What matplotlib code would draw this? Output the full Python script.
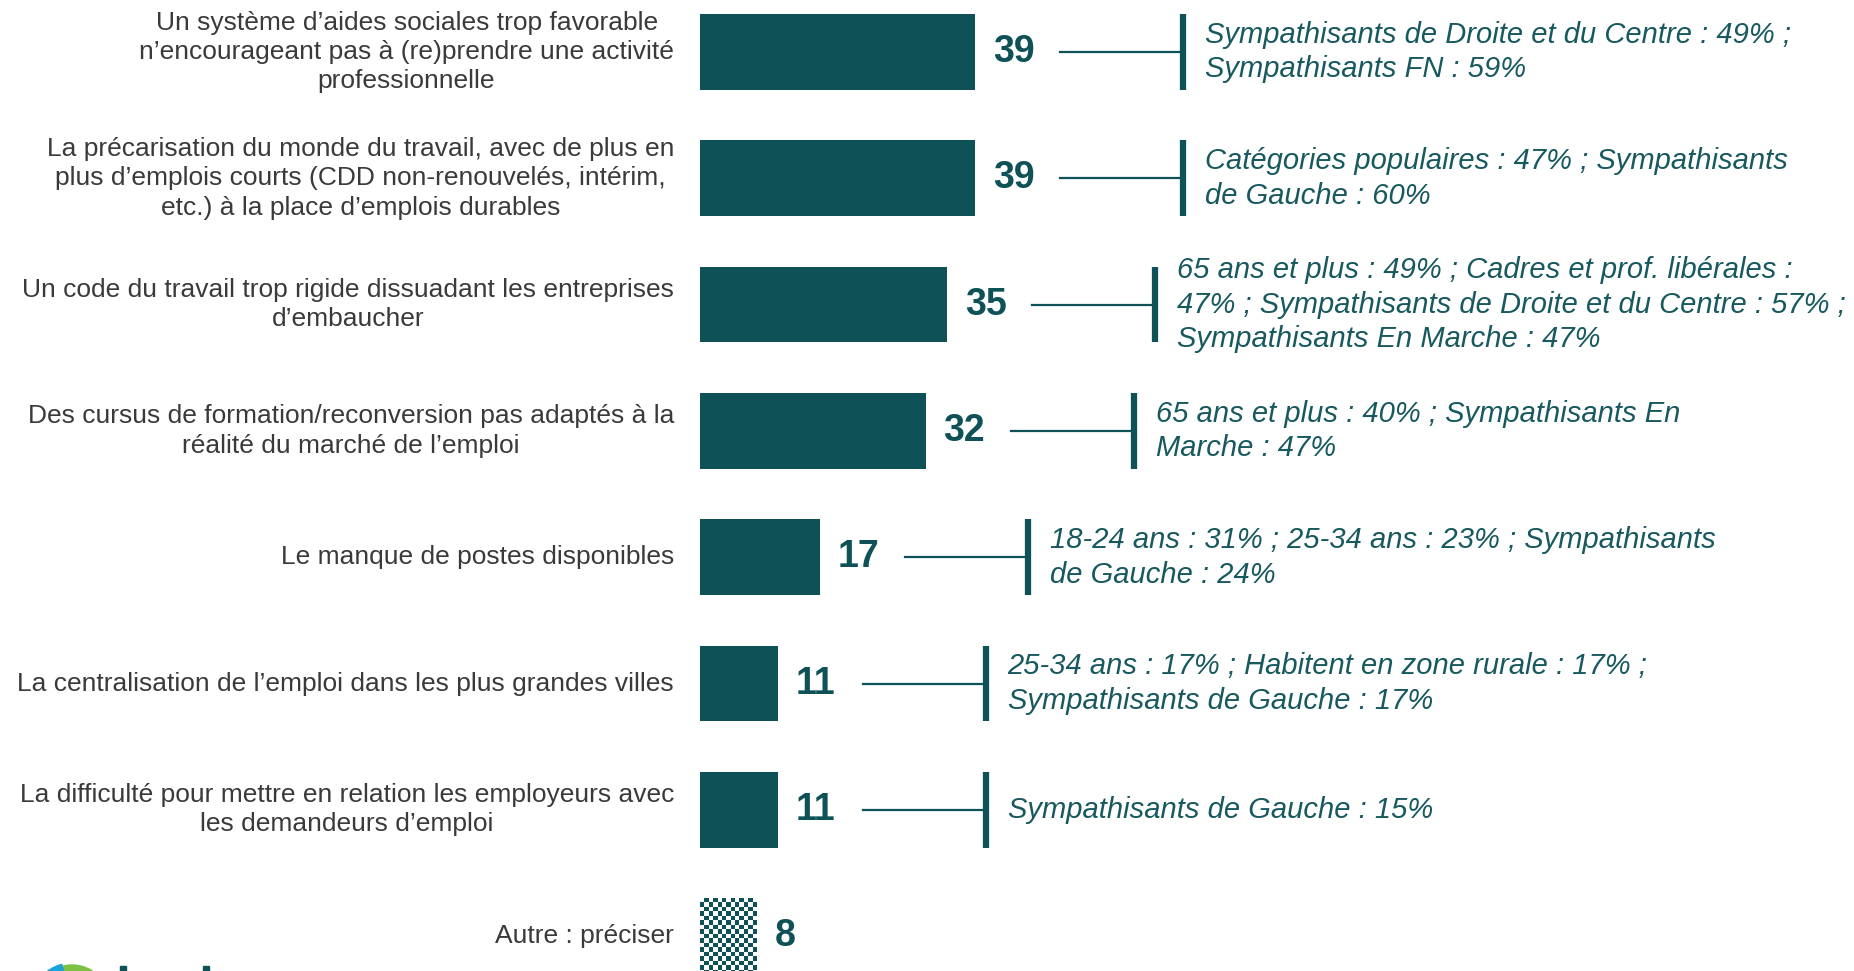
import numpy as np
import matplotlib
matplotlib.use("Agg")
import matplotlib.pyplot as plt
from matplotlib.patches import Circle, Wedge, Rectangle

# Data
categories = [
    "Un système d’aides sociales trop favorable\nn’encourageant pas à (re)prendre une activité\nprofessionnelle",
    "La précarisation du monde du travail, avec de plus en\nplus d’emplois courts (CDD non-renouvelés, intérim,\netc.) à la place d’emplois durables",
    "Un code du travail trop rigide dissuadant les entreprises\nd’embaucher",
    "Des cursus de formation/reconversion pas adaptés à la\nréalité du marché de l’emploi",
    "Le manque de postes disponibles",
    "La centralisation de l’emploi dans les plus grandes villes",
    "La difficulté pour mettre en relation les employeurs avec\nles demandeurs d’emploi",
    "Autre : préciser",
]
values = [39, 39, 35, 32, 17, 11, 11, 8]
notes = [
    "Sympathisants de Droite et du Centre : 49% ;\nSympathisants FN : 59%",
    "Catégories populaires : 47% ; Sympathisants\nde Gauche : 60%",
    "65 ans et plus : 49% ; Cadres et prof. libérales :\n47% ; Sympathisants de Droite et du Centre : 57% ;\nSympathisants En Marche : 47%",
    "65 ans et plus : 40% ; Sympathisants En\nMarche : 47%",
    "18-24 ans : 31% ; 25-34 ans : 23% ; Sympathisants\nde Gauche : 24%",
    "25-34 ans : 17% ; Habitent en zone rurale : 17% ;\nSympathisants de Gauche : 17%",
    "Sympathisants de Gauche : 15%",
    "",
]
hatched = [False, False, False, False, False, False, False, True]

teal = "#0E5157"
note_color = "#17595E"
label_color = "#3A3A3A"

W, H = 1854, 971
fig = plt.figure(figsize=(W / 100, H / 100), dpi=100)
ax = fig.add_axes([0, 0, 1, 1])

# pixel based scale: 7.05 px per percent, bars start at x=700 px, rows 126.3 px apart
px_per_unit = 7.05
PX = 1 / px_per_unit
row_px = 126.3
ax.set_xlim(-700 * PX, (W - 700) * PX)
ax.set_ylim((H - 52) / row_px, -52 / row_px)
ax.axis("off")

y = np.arange(len(values))
bars = ax.barh(y, values, height=0.6, color=teal, edgecolor="none")

# "Autre" bar is drawn as a fine checkerboard
for bar, h in zip(bars, hatched):
    if not h:
        continue
    bar.set_facecolor("white")
    x0, y0, bw, bh = bar.get_x(), bar.get_y(), bar.get_width(), bar.get_height()
    ncol = int(round(bw * px_per_unit / 4.4))
    nrow = int(round(bh * row_px / 4.4))
    checker = (np.add.outer(np.arange(nrow), np.arange(ncol)) % 2).astype(float)
    im = ax.imshow(checker, cmap=matplotlib.colors.ListedColormap(["white", teal]),
                   extent=(x0, x0 + bw, y0 + bh, y0), aspect="auto",
                   interpolation="nearest", zorder=3)
    im.set_clip_path(bar)

for i, (cat, v, note) in enumerate(zip(categories, values, notes)):
    ax.text(-26 * PX, i, cat, ha="right", va="center", multialignment="center",
            fontsize=19, color=label_color, family="Liberation Sans", linespacing=1.28)
    ax.text(v + 18 * PX, i, str(v), ha="left", va="center", fontsize=27,
            fontweight="bold", color=teal, family="Liberation Sans")
    if note:
        x1 = v + 85 * PX
        x2 = x1 + 123 * PX
        ax.plot([x1, x2], [i, i], color=teal, lw=1.6)
        ax.plot([x2, x2], [i - 0.3, i + 0.3], color=teal, lw=4.5, solid_capstyle="butt")
        ax.text(x2 + 22 * PX, i, note, ha="left", va="center", fontsize=21,
                style="italic", color=note_color, family="Liberation Sans",
                linespacing=1.3)

# partial logo at the bottom left corner
lax = fig.add_axes([0, 0, 1, 1], zorder=-1)
lax.set_xlim(0, W)
lax.set_ylim(H, 0)
lax.axis("off")
lax.add_patch(Circle((72, 1003), 38, color="#7CC142"))
lax.add_patch(Circle((72, 1003), 27, color="#CFDF3A"))
lax.add_patch(Wedge((72, 1003), 40, 200, 235, color="#1B8A5A"))
lax.add_patch(Wedge((72, 1003), 40, 235, 255, color="#1AA3DD"))
lax.add_patch(Rectangle((120, 966), 6, 6, color=teal))
lax.add_patch(Rectangle((203, 966), 6, 6, color=teal))

fig.savefig("out.png", dpi=100)
